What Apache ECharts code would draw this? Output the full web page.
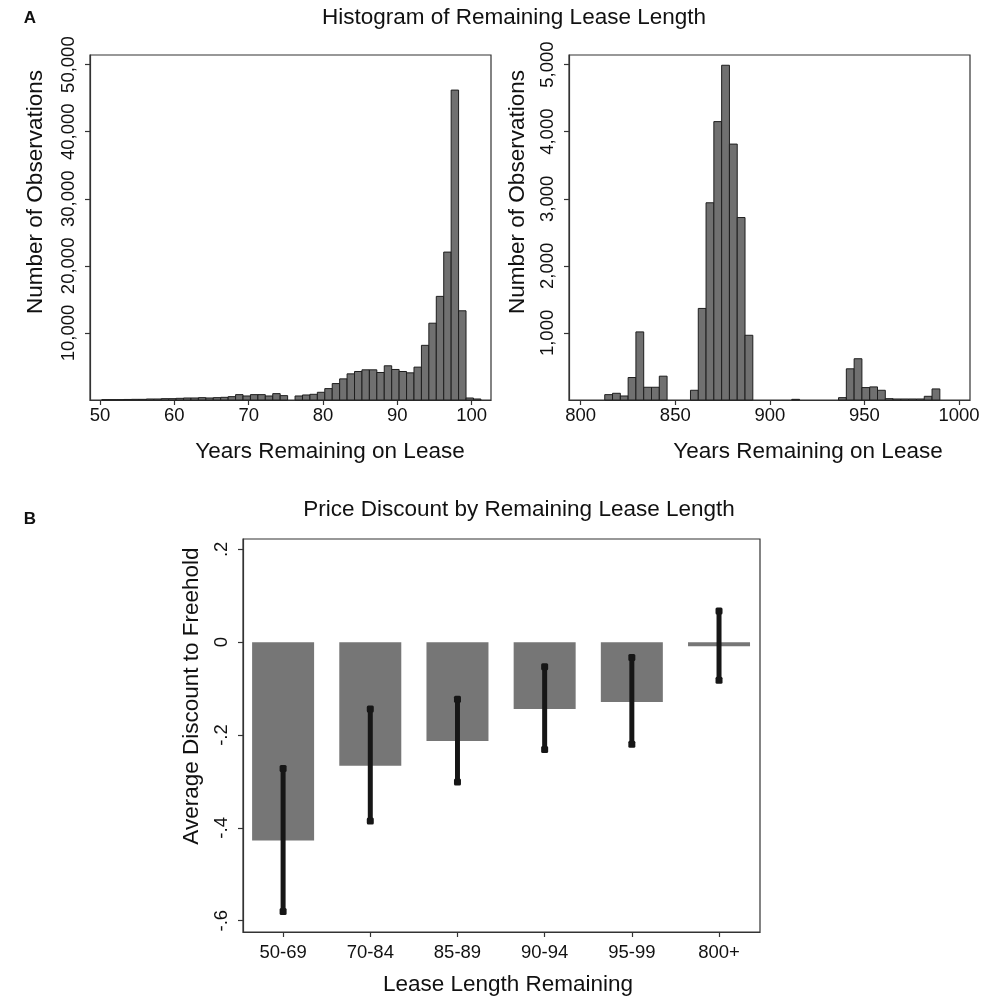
<!DOCTYPE html>
<html><head><meta charset="utf-8">
<script src="https://cdn.jsdelivr.net/npm/echarts@6/dist/echarts.min.js"></script>
<style>html,body{margin:0;padding:0;background:#fff}#c{width:1000px;height:998px}</style>
</head><body><div id="c"></div>
<script>
// ---- Data ----
const leftBinStart = 50.24, leftBinWidth = 1;
const leftCounts = [50,50,50,80,100,100,150,150,200,200,250,300,300,350,300,350,400,500,800,600,
  800,800,600,950,650,0,600,750,850,1150,1700,2450,3150,3900,4250,4500,4500,4100,5100,4550,
  4250,4050,4900,8150,11450,15450,22050,46200,13300,300,150];
const rightBinStart = 812.7, rightBinWidth = 4.12;
const rightCounts = [80,100,60,335,1015,190,190,355,0,0,0,145,1365,2940,4150,4990,3815,2720,965,0,
  0,0,0,0,10,0,0,0,0,0,35,465,615,185,195,145,20,15,15,15,15,55,165];
const leftXTicks = [50,60,70,80,90,100];
const leftYTicks = [10000,20000,30000,40000,50000];
const rightXTicks = [800,850,900,950,1000];
const rightYTicks = [1000,2000,3000,4000,5000];
const groups = ['50-69','70-84','85-89','90-94','95-99','800+'];
const discount = [-0.427,-0.266,-0.213,-0.144,-0.129,-0.009];
const ciLow  = [-0.580,-0.385,-0.301,-0.231,-0.220,-0.082];
const ciHigh = [-0.272,-0.144,-0.123,-0.053,-0.033,0.067];
const discountYTicks = [-0.6,-0.4,-0.2,0,0.2];

// ---- Build ----
const FONT = 'Liberation Sans';
const TXT = '#111';
const AXC = '#333';
function bins(start, width, counts){
  return counts.map((c,i)=>[start+i*width, start+(i+1)*width, c]);
}
function histRender(params, api){
  const c = api.value(2);
  if (!c) return null;
  const p0 = api.coord([api.value(0), c]);
  const p1 = api.coord([api.value(1), 0]);
  return {type:'rect', shape:{x:p0[0], y:p0[1], width:p1[0]-p0[0], height:p1[1]-p0[1]},
    style:{fill:'#707070', stroke:'#1e1e1e', lineWidth:1}};
}
function errRender(params, api){
  const x = api.value(0);
  const a = api.coord([x, api.value(1)]);
  const b = api.coord([x, api.value(2)]);
  const s = 7;
  return {type:'group', children:[
    {type:'line', shape:{x1:a[0], y1:a[1], x2:b[0], y2:b[1]}, style:{stroke:'#161616', lineWidth:5}},
    {type:'rect', shape:{x:a[0]-s/2, y:a[1]-s/2, width:s, height:s, r:1.5}, style:{fill:'#161616'}},
    {type:'rect', shape:{x:b[0]-s/2, y:b[1]-s/2, width:s, height:s, r:1.5}, style:{fill:'#161616'}}
  ]};
}
const fmtThousands = v => Number(v).toLocaleString('en-US');
const fmtDec = v => v === 0 ? '0' : String(+v.toFixed(1)).replace('0.', '.');

function xAxisCfg(gi, min, max, ticks, fmt, margin){
  return {type:'value', gridIndex:gi, min, max, position:'bottom',
    axisLine:{show:true, onZero:false, lineStyle:{color:AXC, width:1.2}},
    axisTick:{show:true, length:5, customValues:ticks, lineStyle:{color:AXC, width:1.2}},
    axisLabel:{customValues:ticks, formatter:fmt, fontFamily:FONT, fontSize:18.5, color:TXT, margin:margin},
    splitLine:{show:false}};
}
function yAxisCfg(gi, min, max, ticks, fmt){
  return {type:'value', gridIndex:gi, min, max,
    axisLine:{show:true, onZero:false, lineStyle:{color:AXC, width:1.2}},
    axisTick:{show:true, length:5, customValues:ticks, lineStyle:{color:AXC, width:1.2}},
    axisLabel:{customValues:ticks, formatter:fmt, rotate:90, fontFamily:FONT, fontSize:18.5, color:TXT, margin:12},
    splitLine:{show:false}};
}
const gridStyle = {show:true, borderColor:AXC, borderWidth:1.2, backgroundColor:'transparent'};

function txt(text, x, y, size, opts){
  opts = opts || {};
  return {type:'text', x, y, rotation: opts.rot || 0,
    style:{text, fontFamily:FONT, fontSize:size, fontWeight: opts.bold ? 'bold' : 'normal',
      fill:TXT, align:'center', verticalAlign:'middle'}};
}

const option = {
  animation:false,
  backgroundColor:'#fff',
  grid:[
    Object.assign({left:90, top:55, width:401, height:345}, gridStyle),
    Object.assign({left:569, top:55, width:401, height:345}, gridStyle),
    Object.assign({left:243, top:539, width:517, height:393}, gridStyle)
  ],
  xAxis:[
    xAxisCfg(0, 48.655, 102.6, leftXTicks, v=>String(v), 6),
    xAxisCfg(1, 793.8, 1005.8, rightXTicks, v=>String(v), 6),
    xAxisCfg(2, 0.54, 6.47, [1,2,3,4,5,6], v=>groups[Math.round(v)-1], 11)
  ],
  yAxis:[
    yAxisCfg(0, 0, 51431, leftYTicks, fmtThousands),
    yAxisCfg(1, 0, 5143, rightYTicks, fmtThousands),
    yAxisCfg(2, -0.6243, 0.2222, discountYTicks, fmtDec)
  ],
  series:[
    {type:'custom', xAxisIndex:0, yAxisIndex:0, data:bins(leftBinStart,leftBinWidth,leftCounts),
      encode:{x:[0,1], y:2}, renderItem:histRender},
    {type:'custom', xAxisIndex:1, yAxisIndex:1, data:bins(rightBinStart,rightBinWidth,rightCounts),
      encode:{x:[0,1], y:2}, renderItem:histRender},
    {type:'bar', xAxisIndex:2, yAxisIndex:2, barWidth:62,
      data:discount.map((d,i)=>[i+1, d]), itemStyle:{color:'#767676'}},
    {type:'custom', xAxisIndex:2, yAxisIndex:2,
      data:groups.map((g,i)=>[i+1, ciLow[i], ciHigh[i]]),
      encode:{x:0, y:[1,2]}, renderItem:errRender, z:5}
  ],
  graphic:[
    txt('A', 30, 18, 17, {bold:true}),
    txt('Histogram of Remaining Lease Length', 514, 18, 22.5),
    txt('Number of Observations', 36, 192, 22.5, {rot:Math.PI/2}),
    txt('Number of Observations', 518, 192, 22.5, {rot:Math.PI/2}),
    txt('Years Remaining on Lease', 330, 452, 22.5),
    txt('Years Remaining on Lease', 808, 452, 22.5),
    txt('B', 30, 519, 17, {bold:true}),
    txt('Price Discount by Remaining Lease Length', 519, 510, 22.5),
    txt('Average Discount to Freehold', 192, 696, 22.5, {rot:Math.PI/2}),
    txt('Lease Length Remaining', 508, 985, 22.5)
  ]
};
const chart = echarts.init(document.getElementById('c'), null, {renderer:'canvas'});
chart.setOption(option);
</script></body></html>
